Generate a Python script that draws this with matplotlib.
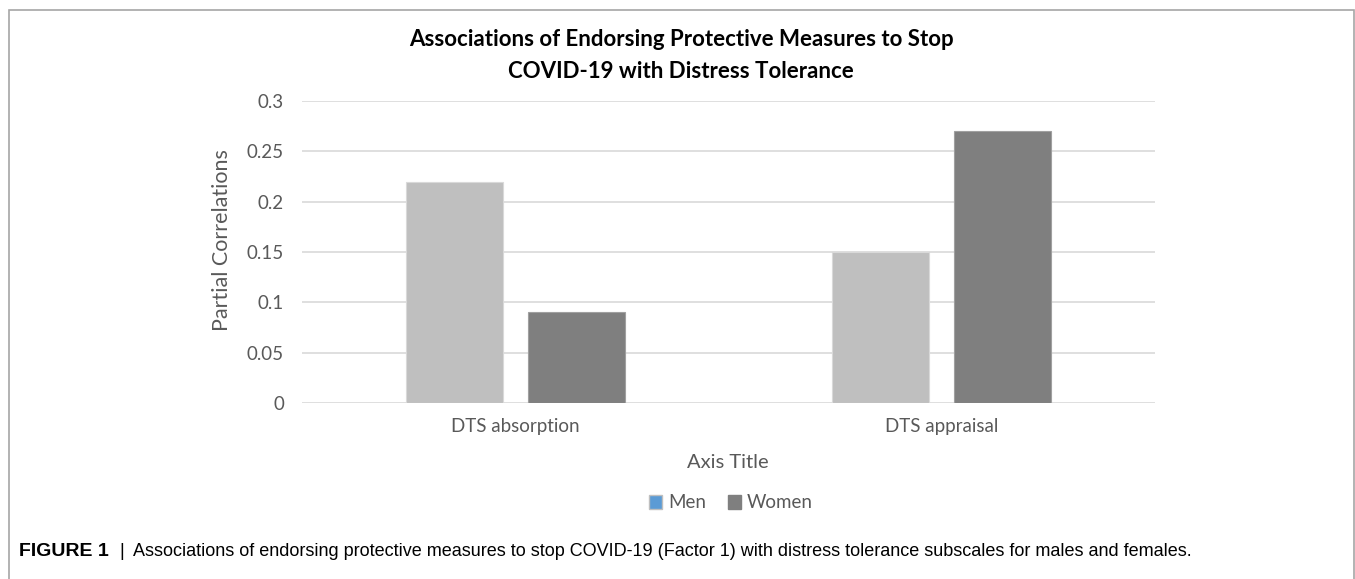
import numpy as np
from matplotlib import pyplot as plt
from matplotlib import patches as patches

# Data
categories = ['DTS absorption', 'DTS appraisal']
men = [0.22, 0.15]
women = [0.09, 0.27]
yticks = [0, 0.05, 0.1, 0.15, 0.2, 0.25, 0.3]
ytick_labels = ['0', '0.05', '0.1', '0.15', '0.2', '0.25', '0.3']

W, H = 1355, 579
fig = plt.figure(figsize=(W/100, H/100), dpi=100)

def fx(px):
    return px / W

def fy(py):
    return 1 - py / H

# outer frame (open at bottom, cropped)
fig.add_artist(patches.Rectangle((fx(9), fy(600)), fx(1354) - fx(9), fy(10) - fy(600),
                                 transform=fig.transFigure, fill=False,
                                 edgecolor='#a6a6a6', linewidth=1.2))

ax = fig.add_axes([fx(302), fy(403), fx(1155) - fx(302), fy(101) - fy(403)])
x = np.arange(len(categories))
bw = 0.227
off = 0.143
ax.bar(x - off, men, bw, color='#bfbfbf', edgecolor='#d9d9d9', linewidth=0.8, zorder=3)
ax.bar(x + off, women, bw, color='#7f7f7f', edgecolor='#a0a0a0', linewidth=0.8, zorder=3)

ax.set_xlim(-0.5, 1.5)
ax.set_ylim(0, 0.3)
ax.set_yticks(yticks)
ax.set_yticklabels(ytick_labels)
ax.set_xticks(x)
ax.set_xticklabels(categories)
ax.yaxis.grid(True, color='#d9d9d9', linewidth=1.2, zorder=0)
for s in ax.spines.values():
    s.set_visible(False)
ax.tick_params(length=0, colors='#595959', labelsize=13.5)
ax.tick_params(axis='y', pad=13)
ax.tick_params(axis='x', pad=11)
for lab in ax.get_xticklabels() + ax.get_yticklabels():
    lab.set_family('Lato')

fig.text(fx(681), fy(39), 'Associations of Endorsing Protective Measures to Stop',
         ha='center', va='center', fontsize=16, fontweight='bold', family='Lato', color='black')
fig.text(fx(681), fy(71), 'COVID-19 with Distress Tolerance',
         ha='center', va='center', fontsize=16, fontweight='bold', family='Lato', color='black')

fig.text(fx(222), fy(240), 'Partial Correlations', rotation=90, ha='center', va='center',
         fontsize=15.5, family='Lato', color='#595959')
fig.text(fx(728), fy(463), 'Axis Title', ha='center', va='center',
         fontsize=14.5, family='Lato', color='#595959')

# legend
handles = [patches.Patch(facecolor='#5b9bd5', edgecolor='#bfbfbf', label='Men'),
           patches.Patch(facecolor='#7f7f7f', edgecolor='#7f7f7f', label='Women')]
fig.legend(handles=handles, loc='center', bbox_to_anchor=(fx(731), fy(503)), ncol=2,
           frameon=False, prop={'family': 'Lato', 'size': 13.5}, labelcolor='#595959',
           handlelength=0.7, handleheight=0.7, handletextpad=0.3, columnspacing=1.2)

# caption
cap_font = ['Liberation Sans Narrow', 'Liberation Sans']
fig.text(fx(19), fy(551), 'FIGURE 1', ha='left', va='center', fontsize=14,
         fontweight='bold', family=cap_font)
fig.text(fx(122), fy(551), '|', ha='center', va='center', fontsize=13, family=cap_font)
fig.text(fx(133), fy(551), 'Associations of endorsing protective measures to stop COVID-19 (Factor 1) with distress tolerance subscales for males and females.',
         ha='left', va='center', fontsize=13, family=cap_font)

fig.savefig('out.png', dpi=100)
